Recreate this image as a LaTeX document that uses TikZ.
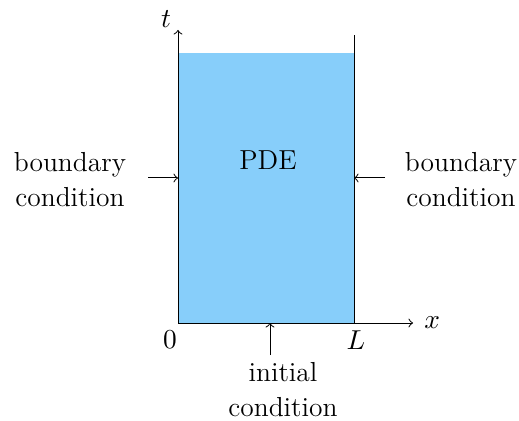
\documentclass[tikz,border=0pt]{standalone}
\usepackage{tikz}
\usetikzlibrary{arrows.meta, positioning}
\definecolor{pdeblue}{RGB}{135,206,250}

\begin{document}
\begin{tikzpicture}[x=0.4pt, y=0.4pt, >=to, font=\fontsize{11}{14}\selectfont,
    lbl/.style={align=center, inner sep=1pt}]
  \useasboundingbox (-178,-97) rectangle (341,323);
  % Gebiet
  \fill[pdeblue] (0,0) rectangle (176,270);
  \coordinate (o) at (0,0);
  \coordinate (ttop) at (0,293);
  \coordinate (xend) at (235,0);
  \coordinate (rb) at (176,0);
  \coordinate (rtop) at (176,288);
  \draw[->] (o) -- (ttop);
  \draw[->] (o) -- (xend);
  \draw (rb) -- (rtop);
  \node (t) at (-12,304) {$t$};
  \node[right=1pt] (x) at (xend) {$x$};
  \node (zero) at (-8,-17) {$0$};
  \node (L) at (178,-17) {$L$};
  \node (pde) at (90,163) {PDE};

  % Randbedingungen
  \coordinate (lbs) at (-30,145);
  \coordinate (lb) at (0,145);
  \coordinate (rbs) at (207,145);
  \coordinate (rbc) at (176,145);
  \coordinate (ibs) at (92,-32);
  \coordinate (ib) at (92,0);
  \node[lbl] (bcl) at (-108,143) {boundary\\condition};
  \node[lbl] (bcr) at (283,143) {boundary\\condition};
  \node[lbl] (ic) at (105,-67) {initial\\condition};
  \draw[->] (lbs) -- (lb);
  \draw[->] (rbs) -- (rbc);
  \draw[->] (ibs) -- (ib);
\end{tikzpicture}
\end{document}
